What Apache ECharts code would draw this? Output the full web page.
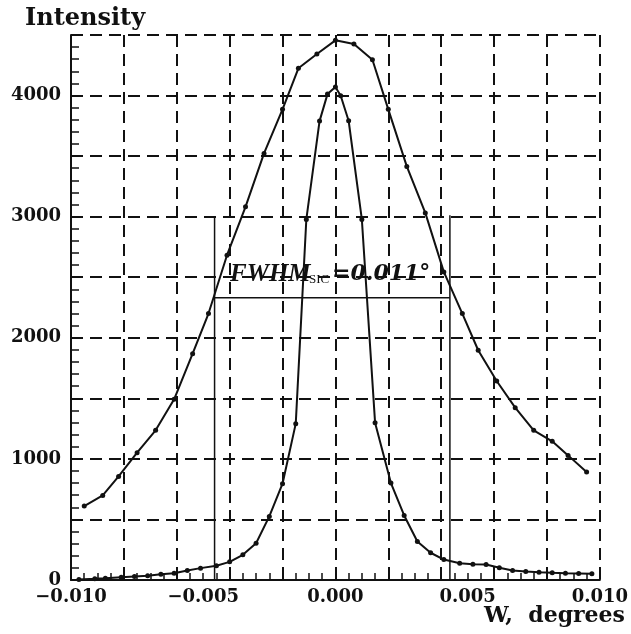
<!DOCTYPE html>
<html>
<head>
<meta charset="utf-8">
<script src="https://cdn.jsdelivr.net/npm/echarts@6/dist/echarts.min.js"></script>
<style>
  html, body { margin: 0; padding: 0; background: #fff; }
  #chart { width: 631px; height: 634px; }
</style>
</head>
<body>
<div id="chart"></div>
<script>
// broad curve (rocking curve)
var broadX = [-0.0095, -0.0088, -0.0082, -0.0075, -0.0068, -0.0061, -0.0054, -0.0048, -0.0041, -0.0034,
  -0.0027, -0.0020, -0.0014, -0.0007, 0.0000, 0.0007, 0.0014, 0.0020, 0.0027, 0.0034,
  0.0041, 0.0048, 0.0054, 0.0061, 0.0068, 0.0075, 0.0082, 0.0088, 0.0095];
var broadY = [610, 698, 855, 1051, 1236, 1492, 1869, 2200, 2682, 3081,
  3522, 3886, 4225, 4343, 4456, 4426, 4296, 3886, 3415, 3031,
  2544, 2200, 1897, 1643, 1423, 1236, 1145, 1029, 891];

// narrow curve
var narrowX = [-0.0097, -0.0091, -0.0087, -0.0081, -0.0076, -0.0071, -0.0066, -0.0061, -0.0056, -0.0051,
  -0.0045, -0.0040, -0.0035, -0.0030, -0.0025, -0.0020, -0.0015, -0.0011, -0.0006, -0.0003,
  0.0000, 0.0002, 0.0005, 0.0010, 0.0015, 0.0021, 0.0026, 0.0031, 0.0036, 0.0041,
  0.0047, 0.0052, 0.0057, 0.0062, 0.0067, 0.0072, 0.0077, 0.0082, 0.0087, 0.0092, 0.0097];
var narrowY = [4, 10, 15, 23, 29, 35, 48, 56, 79, 98,
  117, 150, 208, 304, 525, 795, 1291, 2977, 3789, 4012,
  4070, 3998, 3792, 2977, 1299, 800, 533, 318, 225, 169,
  139, 131, 128, 101, 79, 70, 64, 59, 56, 54, 51];

// FWHM markers
var fwhmX = [-0.00457, 0.00433];
var fwhmTop = [3000, 3012];
var fwhmLevel = 2330;

var yLabelTicks = [0, 1000, 2000, 3000, 4000];

function zip(xs, ys) {
  return xs.map(function (x, i) { return [x, ys[i]]; });
}

var font = "'DejaVu Serif', serif";
var dash = { color: '#111', width: 2, type: [12, 7] };

var chart = echarts.init(document.getElementById('chart'));
var option = {
  backgroundColor: '#fff',
  animation: false,
  grid: { left: 71, right: 29, top: 35, bottom: 54 },
  xAxis: [
    {
      type: 'value', min: -0.01, max: 0.01, interval: 0.002,
      position: 'bottom',
      axisLine: { onZero: false, lineStyle: { color: '#111', width: 2 } },
      axisTick: { inside: true, length: 7, lineStyle: { color: '#111', width: 1.5 } },
      minorTick: { show: true, splitNumber: 4, length: 7, lineStyle: { color: '#111', width: 1.5 } },
      axisLabel: { show: false },
      splitLine: { show: true, lineStyle: dash }
    },
    {
      type: 'value', min: -0.01, max: 0.01, interval: 0.005,
      position: 'bottom', offset: 0,
      axisLine: { show: false, onZero: false },
      axisTick: { show: false },
      splitLine: { show: false },
      axisLabel: {
        margin: 8, color: '#111', fontFamily: font, fontWeight: 'bold', fontSize: 18,
        formatter: function (v) {
          var s = Math.abs(v) < 1e-9 ? '0.000' : v.toFixed(3);
          return s.replace('-', '\u2212');
        }
      }
    }
  ],
  yAxis: {
    type: 'value', min: 0, max: 4500, interval: 500,
    axisLine: { show: true, onZero: false, lineStyle: { color: '#111', width: 2 } },
    axisTick: { show: true, inside: true, length: 8, lineStyle: { color: '#111', width: 1.5 } },
    minorTick: { show: true, splitNumber: 5, length: 8, lineStyle: { color: '#111', width: 1.5 } },
    splitLine: { show: true, lineStyle: dash },
    axisLabel: {
      margin: 10, color: '#111', fontFamily: font, fontWeight: 'bold', fontSize: 18,
      formatter: function (v) { return yLabelTicks.indexOf(v) >= 0 ? String(v) : ''; }
    }
  },
  series: [
    {
      type: 'line', data: zip(broadX, broadY),
      symbol: 'circle', symbolSize: 5,
      lineStyle: { color: '#111', width: 2 }, itemStyle: { color: '#111' }
    },
    {
      type: 'line', data: zip(narrowX, narrowY),
      symbol: 'circle', symbolSize: 5,
      lineStyle: { color: '#111', width: 2 }, itemStyle: { color: '#111' }
    },
    {
      type: 'line', data: [[fwhmX[0], fwhmTop[0]], [fwhmX[0], 0]], symbol: 'none',
      lineStyle: { color: '#111', width: 1.5 }
    },
    {
      type: 'line', data: [[fwhmX[1], fwhmTop[1]], [fwhmX[1], 0]], symbol: 'none',
      lineStyle: { color: '#111', width: 1.5 }
    },
    {
      type: 'line', data: [[fwhmX[0], fwhmLevel], [fwhmX[1], fwhmLevel]], symbol: 'none',
      lineStyle: { color: '#111', width: 1.5 }
    }
  ],
  graphic: [
    {
      type: 'text', left: 25, top: 7,
      style: { text: 'Intensity', fill: '#111', font: 'bold 24px ' + font }
    },
    {
      type: 'text', right: 6, top: 605,
      style: { text: 'W,  degrees', fill: '#111', font: 'bold 22px ' + font }
    },
    {
      type: 'text', left: 230, top: 262,
      style: { text: 'FWHM', fill: '#111', font: "italic bold 25px 'Liberation Serif', serif" }
    },
    {
      type: 'text', left: 309, top: 273,
      style: { text: 'SIC', fill: '#111', font: "13px 'Liberation Serif', serif" }
    },
    {
      type: 'text', left: 332, top: 263,
      style: { text: '=0.011\u00b0', fill: '#111', font: "italic bold 22px 'DejaVu Serif', serif" }
    }
  ]
};
chart.setOption(option);
</script>
</body>
</html>
